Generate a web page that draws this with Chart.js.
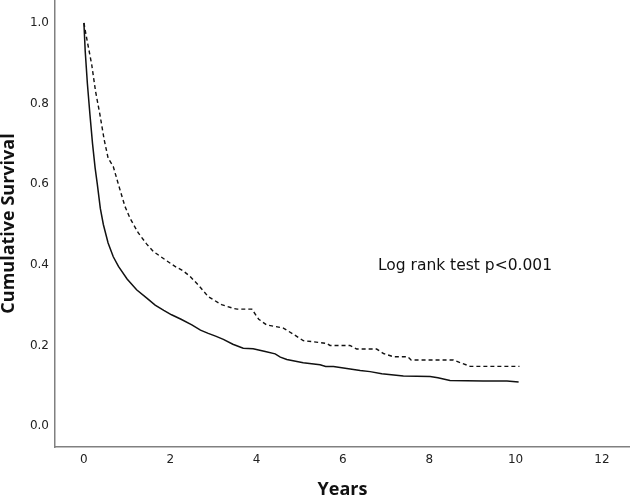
<!DOCTYPE html>
<html>
<head>
<meta charset="utf-8">
<script src="https://cdn.jsdelivr.net/npm/chart.js@4"></script>
<style>
  html, body { margin: 0; padding: 0; background: #fff; }
  #wrap { width: 630px; height: 496px; }
</style>
</head>
<body>
<div id="wrap"><canvas id="survChart" width="630" height="496"></canvas></div>
<script>
// survival curves (years, cumulative survival)
var solidYears = [0, 0.03, 0.08, 0.14, 0.2, 0.26, 0.31, 0.38, 0.45, 0.56, 0.68, 0.80, 1.0, 1.22, 1.45, 1.65, 1.85, 2.03, 2.25, 2.50, 2.7, 2.88, 3.05, 3.23, 3.45, 3.69, 3.92, 4.2, 4.43, 4.55, 4.7, 5.08, 5.47, 5.6, 5.78, 6.09, 6.4, 6.63, 6.9, 7.40, 8.02, 8.2, 8.48, 9.25, 9.80, 10.07];
var solidSurv  = [1.0, 0.93, 0.85, 0.772, 0.70, 0.64, 0.60, 0.54, 0.50, 0.454, 0.42, 0.396, 0.365, 0.338, 0.318, 0.30, 0.287, 0.276, 0.265, 0.251, 0.238, 0.230, 0.223, 0.215, 0.203, 0.193, 0.192, 0.185, 0.179, 0.171, 0.165, 0.157, 0.152, 0.148, 0.148, 0.143, 0.138, 0.135, 0.130, 0.124, 0.123, 0.120, 0.113, 0.112, 0.112, 0.109];

var dashedYears = [0, 0.05, 0.18, 0.27, 0.37, 0.47, 0.56, 0.68, 0.80, 0.95, 1.07, 1.26, 1.45, 1.61, 1.85, 2.11, 2.3, 2.46, 2.65, 2.88, 3.19, 3.46, 3.55, 3.89, 4.05, 4.23, 4.62, 4.85, 5.08, 5.62, 5.70, 6.16, 6.32, 6.78, 6.94, 7.17, 7.50, 7.58, 8.56, 8.70, 8.95, 10.09];
var dashedSurv  = [1.0, 0.97, 0.897, 0.83, 0.773, 0.71, 0.665, 0.644, 0.599, 0.545, 0.515, 0.479, 0.452, 0.433, 0.415, 0.396, 0.385, 0.371, 0.35, 0.321, 0.301, 0.292, 0.290, 0.290, 0.265, 0.251, 0.243, 0.228, 0.212, 0.205, 0.200, 0.200, 0.191, 0.191, 0.18, 0.172, 0.172, 0.164, 0.164, 0.158, 0.148, 0.148];

var xTicks = [0, 2, 4, 6, 8, 10, 12];
var yTicks = [0.0, 0.2, 0.4, 0.6, 0.8, 1.0];

var noteText = 'Log rank test p<0.001';
var noteAt = { x: 6.81, y: 0.397 };

function toPoints(xs, ys) {
  return xs.map(function (x, i) { return { x: x, y: ys[i] }; });
}

// text inside the plot, placed through the scales
var notePlugin = {
  id: 'note',
  afterDraw: function (chart) {
    var ctx = chart.ctx;
    var px = chart.scales.x.getPixelForValue(noteAt.x);
    var py = chart.scales.y.getPixelForValue(noteAt.y);
    ctx.save();
    ctx.font = '15.5px "DejaVu Sans"';
    ctx.fillStyle = '#111';
    ctx.textAlign = 'left';
    ctx.textBaseline = 'middle';
    ctx.fillText(noteText, px, py);
    ctx.restore();
  }
};

var ctx = document.getElementById('survChart').getContext('2d');
var survChart = new Chart(ctx, {
  type: 'scatter',
  data: {
    datasets: [{
      data: toPoints(dashedYears, dashedSurv),
      showLine: true,
      borderColor: '#111',
      borderWidth: 1.4,
      borderDash: [4, 3],
      pointRadius: 0,
      tension: 0
    }, {
      data: toPoints(solidYears, solidSurv),
      showLine: true,
      borderColor: '#111',
      borderWidth: 1.5,
      pointRadius: 0,
      tension: 0
    }]
  },
  options: {
    responsive: false,
    animation: false,
    layout: { padding: 0 },
    plugins: {
      legend: { display: false },
      tooltip: { enabled: false }
    },
    scales: {
      x: {
        type: 'linear',
        min: -0.67,
        max: 12.65,
        afterBuildTicks: function (scale) {
          scale.ticks = xTicks.map(function (v) { return { value: v }; });
        },
        afterFit: function (scale) {
          scale.height = 49;
          scale.paddingLeft = 0;
          scale.paddingRight = 0;
        },
        grid: { display: false, drawTicks: false },
        border: { display: true, color: '#808080', width: 1.5 },
        ticks: {
          padding: 6,
          color: '#222',
          font: { family: 'DejaVu Sans', size: 12 },
          maxRotation: 0
        },
        title: {
          display: true,
          text: 'Years',
          color: '#111',
          padding: 0,
          font: { family: 'Open Sans', size: 18, weight: 'bold', lineHeight: 0.7 }
        }
      },
      y: {
        min: -0.052,
        max: 1.057,
        afterBuildTicks: function (scale) {
          scale.ticks = yTicks.map(function (v) { return { value: v }; });
        },
        afterFit: function (scale) {
          scale.width = 55;
          scale.paddingTop = 0;
          scale.paddingBottom = 0;
        },
        grid: { display: false, drawTicks: false },
        border: { display: true, color: '#808080', width: 1.5 },
        ticks: {
          padding: 6,
          color: '#222',
          font: { family: 'DejaVu Sans', size: 12 },
          callback: function (v) { return v.toFixed(1); }
        },
        title: {
          display: true,
          text: 'Cumulative Survival',
          color: '#111',
          padding: 0,
          font: { family: 'Open Sans', size: 18, weight: 'bold', lineHeight: 1 }
        }
      }
    }
  },
  plugins: [notePlugin]
});
</script>
</body>
</html>
